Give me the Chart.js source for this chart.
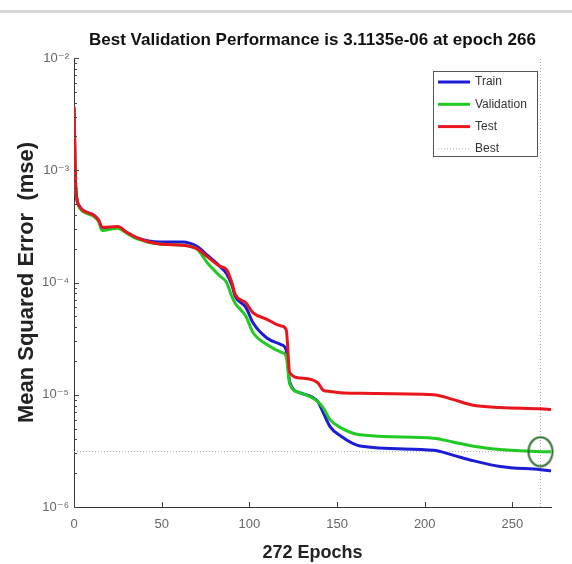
<!DOCTYPE html>
<html>
<head>
<meta charset="utf-8">
<script src="https://cdn.jsdelivr.net/npm/chart.js@4.4.1/dist/chart.umd.min.js"></script>
<style>
  html, body { margin: 0; padding: 0; background: #fff; }
  #wrap { width: 572px; height: 564px; }
</style>
</head>
<body>
<div id="wrap"><canvas id="perfChart" width="572" height="564"></canvas></div>
<script>
// Data
const epochs = [0, 1, 3, 5, 11, 14, 16, 25, 30, 36, 49, 62, 70, 76, 83, 87, 90, 92, 98, 102, 110, 118, 121, 123, 129, 139, 142, 146, 152, 163, 205, 216, 227, 243, 266, 272];
const trainMse = [3.6e-3, 7.0e-4, 4.8e-4, 4.4e-4, 4.0e-4, 3.6e-4, 3.05e-4, 3.1e-4, 2.8e-4, 2.5e-4, 2.3e-4, 2.3e-4, 2.1e-4, 1.75e-4, 1.4e-4, 1.2e-4, 9.5e-5, 7.5e-5, 6.0e-5, 4.4e-5, 3.2e-5, 2.8e-5, 2.5e-5, 1.3e-5, 1.04e-5, 8.7e-6, 7.0e-6, 5.2e-6, 4.3e-6, 3.5e-6, 3.2e-6, 2.9e-6, 2.6e-6, 2.3e-6, 2.15e-6, 2.1e-6];
const validationMse = [3.5e-3, 6.9e-4, 4.7e-4, 4.3e-4, 3.9e-4, 3.5e-4, 2.9e-4, 3.05e-4, 2.75e-4, 2.45e-4, 2.2e-4, 2.15e-4, 2.0e-4, 1.5e-4, 1.15e-4, 1.0e-4, 7.5e-5, 6.5e-5, 5.0e-5, 3.6e-5, 2.8e-5, 2.4e-5, 2.2e-5, 1.25e-5, 1.04e-5, 8.7e-6, 7.7e-6, 6.0e-6, 5.1e-6, 4.4e-6, 4.1e-6, 3.8e-6, 3.5e-6, 3.25e-6, 3.1135e-6, 3.1e-6];
const testMse = [3.7e-3, 7.1e-4, 4.8e-4, 4.4e-4, 4.0e-4, 3.6e-4, 3.1e-4, 3.15e-4, 2.8e-4, 2.5e-4, 2.2e-4, 2.15e-4, 2.0e-4, 1.7e-4, 1.4e-4, 1.3e-4, 1.0e-4, 7.8e-5, 6.6e-5, 5.4e-5, 4.7e-5, 4.1e-5, 3.8e-5, 1.58e-5, 1.41e-5, 1.28e-5, 1.1e-5, 1.07e-5, 1.04e-5, 1.03e-5, 1.0e-5, 9.1e-6, 8.1e-6, 7.7e-6, 7.5e-6, 7.4e-6];

const bestEpoch = 266;
const bestMse = 3.1135e-6;
const totalEpochs = 272;

const xTicks = [0, 50, 100, 150, 200, 250];
const yTicks = [1e-6, 1e-5, 1e-4, 1e-3, 1e-2];
const yTickLabels = ['10\u207B\u2076', '10\u207B\u2075', '10\u207B\u2074', '10\u207B\u00B3', '10\u207B\u00B2'];

const legendLabels = ['Train', 'Validation', 'Test', 'Best'];

// Colors
const blue = '#1c1cd6';
const green = '#22c922';
const red = '#e8161c';
const bestGray = '#a8a8a8';

const toPoints = vals => epochs.map((e, i) => ({ x: e, y: vals[i] }));

// ellipse marker for the best point (figure is slightly stretched vertically)
function makeRing() {
    const c = document.createElement('canvas');
    c.width = 28; c.height = 32;
    const g = c.getContext('2d');
    g.strokeStyle = '#2e6e2e';
    g.lineWidth = 2;
    g.beginPath();
    g.ellipse(14, 16, 12, 14.5, 0, 0, Math.PI * 2);
    g.stroke();
    return c;
}

// Extra drawing: top separator, inward tick marks, boxed legend
const extras = {
    id: 'extras',
    beforeDraw(chart) {
        const ctx = chart.ctx;
        ctx.save();
        ctx.fillStyle = '#fff';
        ctx.fillRect(0, 0, chart.width, chart.height);
        ctx.fillStyle = '#d6d6d6';
        ctx.fillRect(0, 10, chart.width, 3);
        ctx.restore();
    },
    afterDatasetsDraw(chart) {
        const { ctx, chartArea: a, scales: { x, y } } = chart;
        ctx.save();
        ctx.strokeStyle = '#444';
        ctx.lineWidth = 1;
        ctx.beginPath();
        xTicks.forEach(v => {
            const px = Math.round(x.getPixelForValue(v)) + 0.5;
            ctx.moveTo(px, a.bottom);
            ctx.lineTo(px, a.bottom - 5);
        });
        for (let d = -6; d < -2; d++) {
            for (let m = 1; m <= 9; m++) {
                const py = Math.round(y.getPixelForValue(m * Math.pow(10, d))) + 0.5;
                const len = m === 1 ? 5 : 3;
                ctx.moveTo(a.left, py);
                ctx.lineTo(a.left + len, py);
            }
        }
        const topPy = Math.round(y.getPixelForValue(1e-2)) + 0.5;
        ctx.moveTo(a.left, topPy);
        ctx.lineTo(a.left + 5, topPy);
        ctx.stroke();

        // legend box
        const bx = a.right - 118, by = a.top + 13, bw = 104, bh = 85;
        ctx.fillStyle = '#fff';
        ctx.fillRect(bx, by, bw, bh);
        ctx.strokeStyle = '#555';
        ctx.strokeRect(bx + 0.5, by + 0.5, bw, bh);
        ctx.font = '12px "Liberation Sans", Arial, sans-serif';
        ctx.textBaseline = 'middle';
        ctx.fillStyle = '#333';
        legendLabels.forEach((lab, i) => {
            const ds = chart.data.datasets.find(d => d.label === lab);
            const ry = by + 11 + i * 22.3;
            ctx.save();
            ctx.strokeStyle = ds.borderColor;
            ctx.lineWidth = ds.borderWidth;
            ctx.setLineDash(ds.borderDash || []);
            ctx.beginPath();
            ctx.moveTo(bx + 5, ry);
            ctx.lineTo(bx + 37, ry);
            ctx.stroke();
            ctx.restore();
            ctx.fillText(lab, bx + 42, ry);
        });
        ctx.restore();
    }
};

const lineBase = { borderWidth: 3, pointRadius: 0, fill: false, cubicInterpolationMode: 'monotone' };

new Chart(document.getElementById('perfChart'), {
    type: 'line',
    data: {
        datasets: [
            { ...lineBase, label: 'Train', data: toPoints(trainMse), borderColor: blue, order: 3 },
            { ...lineBase, label: 'Validation', data: toPoints(validationMse), borderColor: green, order: 2 },
            { ...lineBase, label: 'Test', data: toPoints(testMse), borderColor: red, order: 1 },
            { label: 'Best', data: [{ x: 0, y: bestMse }, { x: totalEpochs, y: bestMse }], borderColor: bestGray, borderWidth: 1, borderDash: [1, 2], pointRadius: 0, order: 5 },
            { label: '', data: [{ x: bestEpoch, y: 1e-6 }, { x: bestEpoch, y: 1e-2 }], borderColor: bestGray, borderWidth: 1, borderDash: [1, 2], pointRadius: 0, order: 6 },
            { label: '', data: [{ x: bestEpoch, y: bestMse }], showLine: false, pointStyle: makeRing(), pointRadius: 14, clip: false, order: 0 }
        ]
    },
    options: {
        responsive: false,
        animation: false,
        events: [],
        layout: { padding: { left: 0, right: 21, top: 0, bottom: 0 } },
        plugins: {
            legend: { display: false },
            tooltip: { enabled: false },
            title: {
                display: true,
                fullSize: false,
                text: 'Best Validation Performance is 3.1135e-06 at epoch 266',
                color: '#111',
                font: { family: '"Liberation Sans", Arial, sans-serif', size: 17, weight: 'bold' },
                padding: { top: 30, bottom: 7.6 }
            }
        },
        scales: {
            x: {
                type: 'linear',
                min: 0,
                max: totalEpochs,
                grid: { display: false, drawTicks: false },
                border: { display: true, color: '#333', width: 1 },
                afterBuildTicks: s => { s.ticks = xTicks.map(v => ({ value: v })); },
                afterFit: s => { s.height = 57; },
                ticks: {
                    color: '#666',
                    padding: 10,
                    maxRotation: 0,
                    font: { family: '"Liberation Sans", Arial, sans-serif', size: 13 }
                },
                title: {
                    display: true,
                    text: totalEpochs + ' Epochs',
                    color: '#222',
                    font: { family: '"Liberation Sans", Arial, sans-serif', size: 18, weight: 'bold' },
                    padding: { top: 0, bottom: 0 }
                }
            },
            y: {
                type: 'logarithmic',
                min: 1e-6,
                max: 1e-2,
                grid: { display: false, drawTicks: false },
                border: { display: true, color: '#333', width: 1 },
                afterBuildTicks: s => { s.ticks = yTicks.map(v => ({ value: v })); },
                afterFit: s => { s.width = 74; },
                ticks: {
                    color: '#666',
                    padding: 5,
                    font: { family: '"Liberation Sans", "DejaVu Sans", sans-serif', size: 13 },
                    callback: v => {
                        const i = yTicks.findIndex(t => Math.abs(Math.log10(t) - Math.log10(v)) < 1e-6);
                        return i >= 0 ? yTickLabels[i] : '';
                    }
                },
                title: {
                    display: true,
                    text: 'Mean Squared Error  (mse)',
                    color: '#222',
                    font: { family: '"Liberation Sans", Arial, sans-serif', size: 22, weight: 'bold' },
                    padding: { top: 14, bottom: 0 }
                }
            }
        }
    },
    plugins: [extras]
});
</script>
</body>
</html>
